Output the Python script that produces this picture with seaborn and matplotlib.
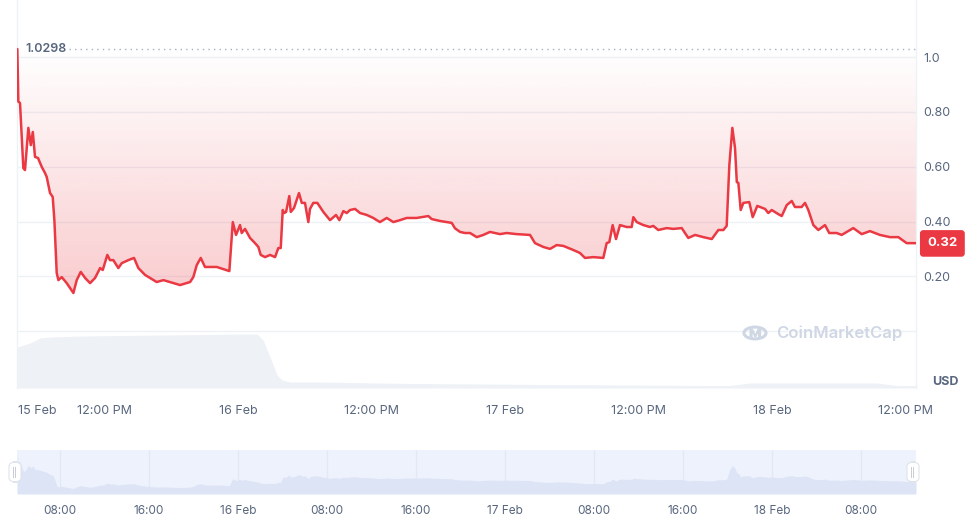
import numpy as np
import pandas as pd
import matplotlib
matplotlib.use('Agg')
import matplotlib.pyplot as plt
import seaborn as sns
from matplotlib.colors import ListedColormap
from matplotlib.patches import FancyBboxPatch, Circle

# --- price: hours since 15 Feb 00:00, USD ---
hours = [4.16, 4.25, 4.40, 4.70, 4.85, 5.15, 5.37, 5.55, 5.75, 6.02, 6.36, 6.65, 6.80, 7.10, 7.34, 7.49,
         7.70, 7.85, 8.15, 8.60, 9.20, 9.50, 9.86, 10.25, 10.70, 11.15, 11.60, 11.84, 12.25, 12.49, 12.79,
         13.24, 13.55, 14.14, 14.65, 15.04, 15.64, 16.09, 16.69, 17.29, 18.19, 18.79, 19.69, 19.98, 20.29,
         20.65, 21.03, 21.48, 22.09, 22.68, 23.22, 23.53, 23.82, 24.18, 24.33, 24.63, 25.08, 25.53, 25.83,
         26.04, 26.43, 26.88, 27.33, 27.62, 27.84, 28.02, 28.14, 28.32, 28.61, 28.74, 29.03, 29.48, 29.73,
         30.02, 30.32, 30.47, 30.77, 31.13, 31.67, 32.27, 32.81, 33.11, 33.47, 33.77, 34.07, 34.52, 34.97,
         35.57, 36.16, 36.47, 36.76, 37.37, 37.96, 38.56, 39.16, 40.06, 41.11, 41.41, 42.16, 43.21, 43.51,
         43.96, 44.41, 44.86, 45.46, 46.05, 46.65, 47.55, 48.15, 49.05, 50.25, 50.70, 51.45, 52.05, 52.65,
         53.24, 54.14, 54.74, 55.19, 55.94, 56.84, 57.14, 57.38, 57.68, 57.98, 58.34, 58.94, 59.39, 59.54,
         59.84, 60.44, 61.03, 61.33, 61.78, 62.54, 63.13, 63.89, 64.48, 65.09, 65.83, 66.59, 67.18, 67.63,
         67.93, 68.17, 68.44, 68.68, 68.84, 68.98, 69.19, 69.43, 69.96, 70.27, 70.68, 71.38, 71.67, 71.98,
         72.57, 72.88, 73.33, 73.78, 74.07, 74.67, 74.97, 75.27, 75.72, 76.17, 76.77, 77.15, 77.82, 78.27,
         79.31, 80.07, 80.81, 81.71, 82.61, 83.36, 84.11, 84.95]
price = [1.0298, 0.838, 0.833, 0.595, 0.588, 0.742, 0.679, 0.727, 0.636, 0.632, 0.599, 0.577, 0.563, 0.504,
         0.490, 0.405, 0.212, 0.186, 0.197, 0.175, 0.139, 0.186, 0.216, 0.194, 0.175, 0.194, 0.230, 0.223,
         0.278, 0.259, 0.259, 0.230, 0.248, 0.259, 0.267, 0.230, 0.205, 0.194, 0.179, 0.186, 0.175, 0.168,
         0.179, 0.197, 0.241, 0.267, 0.234, 0.234, 0.234, 0.226, 0.219, 0.398, 0.351, 0.387, 0.358, 0.373,
         0.340, 0.321, 0.307, 0.278, 0.270, 0.278, 0.270, 0.303, 0.303, 0.442, 0.431, 0.435, 0.493, 0.435,
         0.449, 0.504, 0.468, 0.468, 0.398, 0.446, 0.468, 0.468, 0.435, 0.405, 0.424, 0.405, 0.438, 0.431,
         0.442, 0.446, 0.431, 0.424, 0.413, 0.405, 0.398, 0.413, 0.398, 0.405, 0.413, 0.413, 0.420, 0.409,
         0.402, 0.395, 0.375, 0.362, 0.358, 0.358, 0.343, 0.351, 0.362, 0.354, 0.358, 0.354, 0.351, 0.321,
         0.307, 0.300, 0.314, 0.311, 0.296, 0.285, 0.267, 0.270, 0.267, 0.321, 0.325, 0.387, 0.336, 0.387,
         0.380, 0.380, 0.416, 0.398, 0.387, 0.380, 0.384, 0.369, 0.376, 0.373, 0.376, 0.340, 0.351, 0.343,
         0.336, 0.369, 0.369, 0.384, 0.606, 0.742, 0.668, 0.544, 0.541, 0.442, 0.468, 0.471, 0.416, 0.457,
         0.446, 0.431, 0.442, 0.427, 0.420, 0.460, 0.475, 0.453, 0.453, 0.468, 0.442, 0.387, 0.369, 0.387,
         0.358, 0.358, 0.351, 0.376, 0.354, 0.365, 0.351, 0.343, 0.343, 0.321, 0.321]

# --- volume (millions USD) ---
vol_hours = [4.13, 5.30, 6.20, 7.10, 10.07, 24.45, 25.71, 26.25, 26.88, 27.51, 27.96, 28.68, 31.37,
             39.46, 52.04, 65.53, 68.22, 70.02, 81.44, 83.24, 84.95]
volume = [4.1, 4.5, 5.0, 5.1, 5.2, 5.4, 5.4, 4.8, 3.1, 1.3, 0.8, 0.6, 0.6,
          0.45, 0.35, 0.25, 0.25, 0.5, 0.5, 0.25, 0.25]

# --- axis labels ---
main_tick_hours = [5.93, 12, 24, 36, 48, 60, 72, 84]
main_tick_labels = ['15 Feb', '12:00 PM', '16 Feb', '12:00 PM', '17 Feb', '12:00 PM', '18 Feb', '12:00 PM']
y_ticks = [0.2, 0.4, 0.6, 0.8, 1.0]
y_tick_labels = ['0.20', '0.40', '0.60', '0.80', '1.0']
nav_tick_hours = [8, 16, 24, 32, 40, 48, 56, 64, 72, 80]
nav_tick_labels = ['08:00', '16:00', '16 Feb', '08:00', '16:00', '17 Feb', '08:00', '16:00', '18 Feb', '08:00']
high_price = 1.0298
last_price = 0.32

df = pd.DataFrame({'hours': hours, 'price': price})
dv = pd.DataFrame({'hours': vol_hours, 'volume': volume})

sns.set_theme(style='white')
plt.rcParams['font.family'] = ['Inter', 'DejaVu Sans']

RED = '#ea3943'
GREY_TXT = '#58667e'
GRID = '#eff2f5'

W, H = 972, 523
fig = plt.figure(figsize=(W / 100, H / 100), dpi=100)

def fig_rect(x0, y0, x1, y1):
    # pixel box (top-left origin) -> figure fraction
    return [x0 / W, 1 - y1 / H, (x1 - x0) / W, (y1 - y0) / H]

xmin, xmax = 4.13, 84.95

# volume behind
axv = fig.add_axes(fig_rect(17, 0, 916, 388))
axv.fill_between(dv['hours'], dv['volume'], 0, color='#eef1f6', lw=0)
axv.set_xlim(xmin, xmax)
axv.set_ylim(0, 38.8)
axv.axis('off')

ax = fig.add_axes(fig_rect(17, 0, 916, 388))
ax.patch.set_visible(False)
ax.set_xlim(xmin, xmax)
ax.set_ylim(-0.208, 1.209)

for yv in [0.0] + y_ticks:
    ax.axhline(yv, color=GRID, lw=1, zorder=0)

# gradient fill between line and the period high
poly = ax.fill_between(df['hours'], df['price'], high_price, color='none', lw=0)
path = poly.get_paths()[0]
alphas = np.linspace(0.26, 0.0, 256)
cols = np.zeros((256, 4))
cols[:, 0], cols[:, 1], cols[:, 2] = 234 / 255, 57 / 255, 67 / 255
cols[:, 3] = alphas
grad = np.linspace(0, 1, 256).reshape(-1, 1)
img = ax.imshow(grad, extent=[xmin, xmax, 0.13, high_price], origin='lower',
                cmap=ListedColormap(cols), aspect='auto', zorder=1)
img.set_clip_path(path, transform=ax.transData)

# dotted high line + label
ax.plot([8.8, xmax], [high_price, high_price], color='#a6b0c3', lw=1, ls=(0, (1, 3)), zorder=2)
ax.text(0.009, high_price, '1.0298', color=GREY_TXT, fontsize=9, fontweight='semibold',
        va='center', ha='left', transform=ax.get_yaxis_transform(), zorder=4)

sns.lineplot(data=df, x='hours', y='price', color=RED, lw=1.8, ax=ax, zorder=3)
ax.set_xlim(xmin, xmax)
ax.set_ylim(-0.208, 1.209)

ax.yaxis.tick_right()
ax.set_yticks(y_ticks)
ax.set_yticklabels(y_tick_labels)
ax.set_xticks(main_tick_hours)
ax.set_xticklabels(main_tick_labels)
ax.tick_params(axis='y', length=0, pad=5, labelsize=9, labelcolor=GREY_TXT)
ax.tick_params(axis='x', length=0, pad=12, labelsize=9, labelcolor=GREY_TXT)
ax.set_xlabel('')
ax.set_ylabel('')
for s in ['top', 'bottom']:
    ax.spines[s].set_visible(False)
for s in ['left', 'right']:
    ax.spines[s].set_color(GRID)
    ax.spines[s].set_linewidth(1)

# last price badge
ax.text(1.0125, last_price, f'{last_price:.2f}', transform=ax.get_yaxis_transform(),
        ha='left', va='center', color='white', fontsize=9.5, fontweight='bold', zorder=5,
        bbox=dict(boxstyle='round,pad=0.5,rounding_size=0.2', fc=RED, ec=RED))
fig.text(945 / W, 1 - 382 / H, 'USD', ha='center', va='center', color=GREY_TXT,
         fontsize=9, fontweight='bold')

# watermark
fig.patches.append(Circle((755 / W, 1 - 333 / H), 11 / W, transform=fig.transFigure,
                          fill=False, ec='#cfd6e4', lw=2.2))
fig.text(755 / W, 1 - 334 / H, 'ᴍ', ha='center', va='center', color='#cfd6e4',
         fontsize=13, fontweight='bold', family=['DejaVu Sans'])
fig.text(776 / W, 1 - 333 / H, 'CoinMarketCap', ha='left', va='center', color='#cfd6e4',
         fontsize=12, fontweight='semibold')

# navigator
axn = fig.add_axes(fig_rect(17, 450, 916, 494))
axn.set_facecolor('#eef2fd')
axn.fill_between(df['hours'], df['price'], 0, color='#dde4f5', lw=0)
axn.set_xlim(xmin, xmax)
axn.set_ylim(0, 1.14)
for th in nav_tick_hours:
    axn.axvline(th, color='#e2e8f6', lw=1, zorder=0)
axn.set_xticks(nav_tick_hours)
axn.set_xticklabels(nav_tick_labels)
axn.set_yticks([])
axn.tick_params(axis='x', length=0, pad=8, labelsize=8.5, labelcolor=GREY_TXT)
for s in axn.spines.values():
    s.set_visible(False)

for cx in [15, 913]:
    fig.patches.append(FancyBboxPatch(((cx - 6) / W, 1 - 482 / H), 12 / W, 20 / H,
                                      boxstyle='round,pad=0,rounding_size=0.008',
                                      transform=fig.transFigure, fc='white', ec='#dfe3ea', lw=0.8))
    fig.text(cx / W, 1 - 472 / H, '||', ha='center', va='center', color='#a6b0c3', fontsize=6)

fig.savefig('out.png', dpi=100)
